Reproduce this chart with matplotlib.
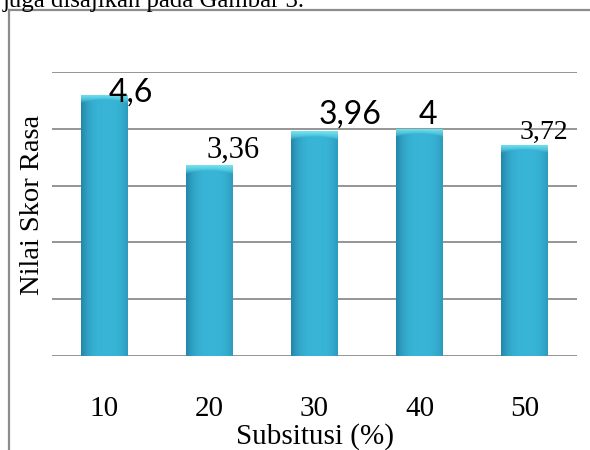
import numpy as np
import matplotlib.pyplot as plt
from matplotlib.lines import Line2D

subsitusi = ['10', '20', '30', '40', '50']
skor_rasa = [4.6, 3.36, 3.96, 4.0, 3.72]
label_nilai = ['4,6', '3,36', '3,96', '4', '3,72']

# label placement: shift right (category units), shift up (pixels), font
label_dx = [0.25, 0.22, 0.34, 0.08, 0.18]
label_dy = [2, 15, 17, 14, 12]
label_font = ['Lato', 'Liberation Serif', 'Lato', 'Lato', 'Liberation Serif']
label_size = [23, 22, 23, 23, 20]

fig = plt.figure(figsize=(5.9, 4.5), dpi=100)
ax = fig.add_axes([52 / 590, 1 - 356 / 450, 525 / 590, 284 / 450])

x = np.arange(len(subsitusi))
bars = ax.bar(x, skor_rasa, width=0.44, color='#33aacb', zorder=3)

# cylinder-like shading: slightly darker edges, lighter middle, bright cap on top
edge = np.array([0.16, 0.57, 0.71])
mid = np.array([0.22, 0.71, 0.84])
cap = np.array([0.45, 0.89, 0.94])
for b in bars:
    x0, w, h = b.get_x(), b.get_width(), b.get_height()
    nx, ny = 60, 400
    t = np.linspace(-1, 1, nx)
    prof = 1 - np.abs(t - 0.1) ** 3
    row = edge[None, :] + (mid - edge)[None, :] * prof[:, None]
    img = np.repeat(row[None, :, :], ny, axis=0)
    yy = np.linspace(h, 0, ny)
    capdepth = 0.09 + 0.06 * (np.abs(t) ** 2)
    for j in range(nx):
        f = np.clip(1 - (h - yy) / capdepth[j], 0, 1) ** 0.6
        img[:, j, :] = row[j] * (1 - f[:, None]) + cap * f[:, None]
    im = ax.imshow(img, extent=[x0, x0 + w, 0, h], aspect='auto',
                   zorder=4, interpolation='bilinear')
    im.set_clip_path(b)

ax.set_xlim(-0.5, 4.5)
ax.set_ylim(0, 5)
ax.set_yticks(np.arange(0, 6, 1))
ax.yaxis.grid(True, color='#8c8c8c', linewidth=1.3, zorder=0)
ax.set_axisbelow(True)
ax.set_yticklabels([])
ax.tick_params(axis='both', length=0)
for s in ['top', 'right', 'left', 'bottom']:
    ax.spines[s].set_visible(False)

ax.set_xticks(x)
ax.set_xticklabels(subsitusi, family='Liberation Serif', fontsize=21)
ax.tick_params(axis='x', pad=29)

for i in range(len(subsitusi)):
    ax.annotate(label_nilai[i], (x[i] + label_dx[i], skor_rasa[i]),
                xytext=(0, label_dy[i]), textcoords='offset pixels',
                ha='center', va='center', family=label_font[i],
                fontsize=label_size[i], zorder=6)

ax.set_xlabel('Subsitusi (%)', family='Liberation Serif', fontsize=21)
ax.xaxis.set_label_coords(0.5, -0.285)
ax.xaxis.label.set_va('center')
fig.text(33 / 590, 1 - 205 / 450, 'Nilai Skor Rasa', rotation=90,
         family='Liberation Serif', fontsize=20.5, ha='center', va='center')

# page frame and the caption line cut off above it
fig.add_artist(Line2D([9 / 590, 9 / 590], [0, 1 - 10 / 450], color='#8c8c8c', lw=1.6))
fig.add_artist(Line2D([9 / 590, 1], [1 - 10 / 450, 1 - 10 / 450], color='#8c8c8c', lw=1.6))
fig.text(3 / 590, 1 - 7 / 450, 'juga disajikan pada Gambar 3.', family='Liberation Serif',
         fontsize=17.8, ha='left', va='baseline')

fig.savefig('out.png', dpi=100)
